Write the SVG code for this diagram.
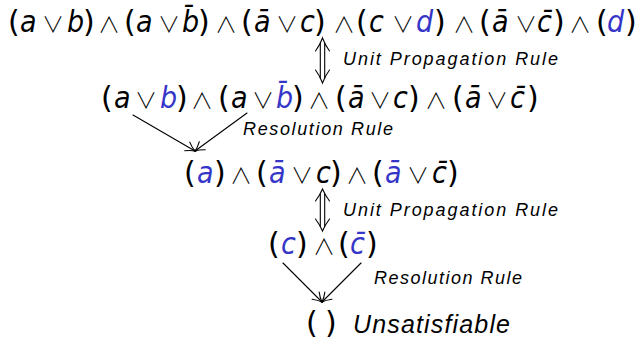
<svg xmlns="http://www.w3.org/2000/svg" width="638" height="339" viewBox="0 0 638 339">
<style>
  .m { font-family: "DejaVu Sans", sans-serif; font-size: 30px; fill: #000; }
  .v { font-family: "DejaVu Sans Condensed", "DejaVu Sans", sans-serif; font-stretch: condensed; font-style: italic; }
  .op { font-family: "Noto Sans CJK SC", "DejaVu Sans", sans-serif; font-size: 22px; font-weight: 300; }
  .b { fill: #3535c8; }
  .lbl { font-family: "Liberation Sans", Arial, sans-serif; font-style: italic; font-size: 18px; fill: #000; }
  .big { font-size: 25px; }
  .ln { stroke: #000; stroke-width: 1.1; fill: none; stroke-linecap: round; }
</style>
<defs>
  <marker id="tip" markerUnits="userSpaceOnUse" markerWidth="20" markerHeight="20" refX="0" refY="0" orient="auto" overflow="visible">
    <path d="M-9,-5 Q-4,-1.2 0,0 Q-4,1.2 -9,5" fill="none" stroke="#000" stroke-width="1.1" stroke-linecap="round"/>
  </marker>
</defs>
<rect width="638" height="339" fill="#fff"/>

<g id="formula1">
<text class="m" y="32"><tspan x="8">(</tspan><tspan class="v" x="20">a</tspan><tspan class="op" x="42">∨</tspan><tspan class="v" x="67">b</tspan><tspan x="83">)</tspan><tspan class="op" x="98">∧</tspan><tspan x="124">(</tspan><tspan class="v" x="136">a</tspan><tspan class="op" x="158">∨</tspan><tspan class="v" x="182">b̄</tspan><tspan x="198">)</tspan><tspan class="op" x="215">∧</tspan><tspan x="241">(</tspan><tspan class="v" x="254">ā</tspan><tspan class="op" x="276">∨</tspan><tspan class="v" x="300">c</tspan><tspan x="314">)</tspan><tspan class="op" x="333">∧</tspan><tspan x="356">(</tspan><tspan class="v" x="369">c</tspan><tspan class="op" x="392">∨</tspan><tspan class="v b" x="416">d</tspan><tspan x="434">)</tspan><tspan class="op" x="453">∧</tspan><tspan x="479">(</tspan><tspan class="v" x="492">ā</tspan><tspan class="op" x="515">∨</tspan><tspan class="v" x="537">c̄</tspan><tspan x="553">)</tspan><tspan class="op" x="569">∧</tspan><tspan x="596">(</tspan><tspan class="v b" x="607">d</tspan><tspan x="625">)</tspan></text>
</g>

<g id="label-unit1"><text class="lbl" x="343" y="65" textLength="215" lengthAdjust="spacing">Unit Propagation Rule</text></g>

<g id="formula2">
<text class="m" y="108"><tspan x="101">(</tspan><tspan class="v" x="114">a</tspan><tspan class="op" x="135">∨</tspan><tspan class="v b" x="160">b</tspan><tspan x="176">)</tspan><tspan class="op" x="191">∧</tspan><tspan x="218">(</tspan><tspan class="v" x="231">a</tspan><tspan class="op" x="252">∨</tspan><tspan class="v b" x="276">b̄</tspan><tspan x="292">)</tspan><tspan class="op" x="308">∧</tspan><tspan x="335">(</tspan><tspan class="v" x="348">ā</tspan><tspan class="op" x="369">∨</tspan><tspan class="v" x="393">c</tspan><tspan x="408">)</tspan><tspan class="op" x="425">∧</tspan><tspan x="452">(</tspan><tspan class="v" x="465">ā</tspan><tspan class="op" x="486">∨</tspan><tspan class="v" x="510">c̄</tspan><tspan x="527">)</tspan></text>
</g>

<g id="label-res1"><text class="lbl" x="243" y="135" textLength="150" lengthAdjust="spacing">Resolution Rule</text></g>

<g id="formula3">
<text class="m" y="183"><tspan x="184">(</tspan><tspan class="v b" x="197">a</tspan><tspan x="214">)</tspan><tspan class="op" x="230">∧</tspan><tspan x="256">(</tspan><tspan class="v b" x="269">ā</tspan><tspan class="op" x="291">∨</tspan><tspan class="v" x="316">c</tspan><tspan x="330">)</tspan><tspan class="op" x="346">∧</tspan><tspan x="372">(</tspan><tspan class="v b" x="385">ā</tspan><tspan class="op" x="407">∨</tspan><tspan class="v" x="432">c̄</tspan><tspan x="447">)</tspan></text>
</g>

<g id="label-unit2"><text class="lbl" x="343" y="216" textLength="215" lengthAdjust="spacing">Unit Propagation Rule</text></g>

<g id="formula4">
<text class="m" y="254"><tspan x="268">(</tspan><tspan class="v b" x="281">c</tspan><tspan x="296">)</tspan><tspan class="op" x="313">∧</tspan><tspan x="338">(</tspan><tspan class="v b" x="350">c̄</tspan><tspan x="366">)</tspan></text>
</g>

<g id="label-res2"><text class="lbl" x="374" y="284" textLength="148" lengthAdjust="spacing">Resolution Rule</text></g>

<g id="result">
<text class="m" y="333"><tspan x="306">(</tspan><tspan x="325">)</tspan></text>
<text class="lbl big" x="353" y="333" textLength="157" lengthAdjust="spacing">Unsatisfiable</text>
</g>

<g id="connectors">
  <g id="unit-arrow-1">
    <path class="ln" d="M320.3,43 V78 M324.7,43 V78"/>
    <path class="ln" d="M315.5,51 Q320,45 322.5,38 Q325,45 329.5,51"/>
    <path class="ln" d="M315.5,70 Q320,76 322.5,83 Q325,76 329.5,70"/>
  </g>
  <g id="unit-arrow-2">
    <path class="ln" d="M320.3,194 V226 M324.7,194 V226"/>
    <path class="ln" d="M315.5,201 Q320,195 322.5,189 Q325,195 329.5,201"/>
    <path class="ln" d="M315.5,219 Q320,225 322.5,231 Q325,225 329.5,219"/>
  </g>
  <line class="ln" x1="133" y1="115" x2="195" y2="151" marker-end="url(#tip)"/>
  <line class="ln" x1="247" y1="113" x2="195" y2="151" marker-end="url(#tip)"/>
  <line class="ln" x1="283" y1="263" x2="322" y2="302" marker-end="url(#tip)"/>
  <line class="ln" x1="361" y1="263" x2="322" y2="302" marker-end="url(#tip)"/>
</g>
</svg>
